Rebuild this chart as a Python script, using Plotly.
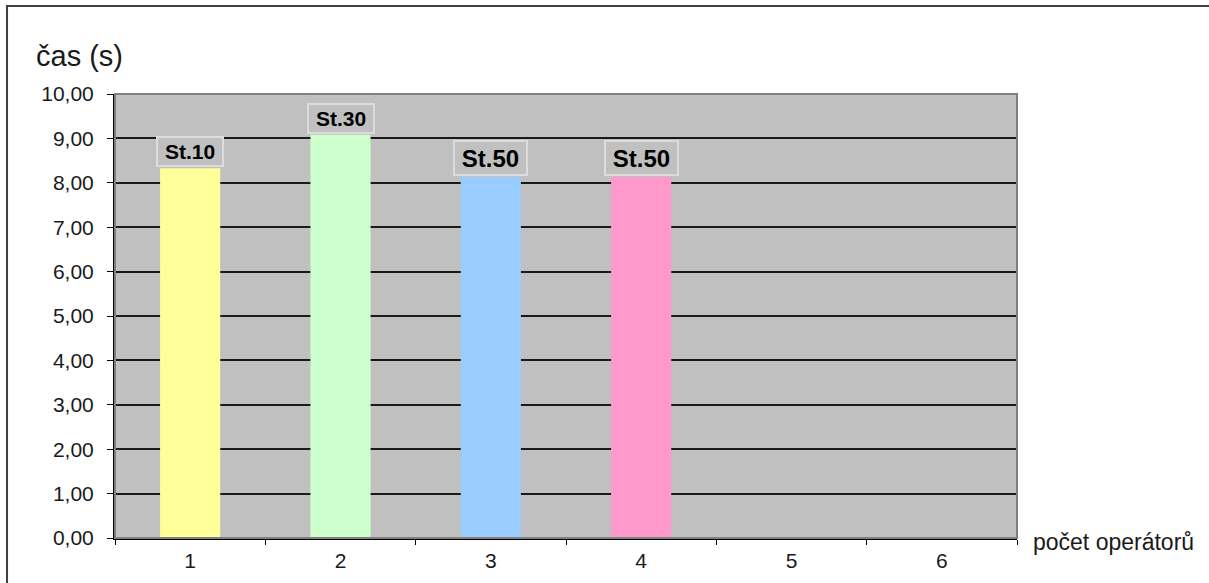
import plotly.graph_objects as go

categories = ["1", "2", "3", "4", "5", "6"]
values = [8.33, 9.08, 8.13, 8.13, None, None]
bar_colors = ["#FFFF99", "#CCFFCC", "#99CCFF", "#FF99CC", "#C0C0C0", "#C0C0C0"]
labels = ["St.10", "St.30", "St.50", "St.50"]
label_sizes = [21, 21, 24, 24]
y_ticks = [0, 1, 2, 3, 4, 5, 6, 7, 8, 9, 10]

FONT = "Liberation Sans, Arial, sans-serif"

fig = go.Figure()
fig.add_trace(go.Bar(
    x=categories, y=values,
    marker=dict(color=bar_colors, line=dict(width=0)),
    width=0.4, hoverinfo="skip",
))

for i, (val, lab, size) in enumerate(zip(values, labels, label_sizes)):
    big = size > 22
    fig.add_annotation(
        x=i, y=val, xref="x", yref="y", text="<b>%s</b>" % lab,
        showarrow=False, yanchor="bottom", yshift=1,
        width=69 if big else 62, height=30 if big else 25,
        font=dict(family=FONT, size=size, color="#000000"),
        bgcolor="#C0C0C0", bordercolor="#DCDCDC", borderwidth=2, borderpad=1,
    )

# outer chart frame
fig.add_shape(type="rect", xref="paper", yref="paper",
              x0=-0.1197, x1=1.4, y0=-0.3, y1=1.198,
              line=dict(color="#404040", width=2), layer="below")
# plot-area frame (top/right grey)
fig.add_shape(type="rect", xref="paper", yref="paper",
              x0=0, x1=1, y0=0, y1=1,
              line=dict(color="#808080", width=2), layer="above")

fig.add_annotation(xref="paper", yref="paper", x=-0.090, y=1.085,
                   xanchor="left", yanchor="middle", text="čas (s)",
                   showarrow=False, font=dict(family=FONT, size=29, color="#1a1a1a"))
fig.add_annotation(xref="paper", yref="paper", x=1.016, y=-0.01,
                   xanchor="left", yanchor="middle", text="počet operátorů",
                   showarrow=False, font=dict(family=FONT, size=23, color="#1a1a1a"))

fig.update_layout(
    width=1209, height=583,
    margin=dict(l=115, r=192, t=94, b=45),
    paper_bgcolor="white", plot_bgcolor="#C0C0C0",
    showlegend=False, separators=",.",
    bargap=0.6,
    font=dict(family=FONT, size=20, color="#1a1a1a"),
)
fig.update_xaxes(
    type="category", categoryorder="array", categoryarray=categories,
    range=[-0.5, 5.5], tickson="boundaries", ticks="outside", ticklen=5,
    tickcolor="#000000", showline=True, linecolor="#000000", linewidth=2,
    showgrid=False, tickfont=dict(family=FONT, size=21, color="#1a1a1a"),
    ticklabelstandoff=3,
)
fig.update_yaxes(
    range=[0, 10], tickvals=y_ticks, tickformat=".2f", ticks="outside",
    ticklen=6, tickcolor="#000000", showline=True, linecolor="#000000",
    linewidth=2, showgrid=True, gridcolor="#1a1a1a", gridwidth=1.5,
    zeroline=False, tickfont=dict(family=FONT, size=21, color="#1a1a1a"),
    ticklabelstandoff=9,
)

fig.write_html("out.html")
